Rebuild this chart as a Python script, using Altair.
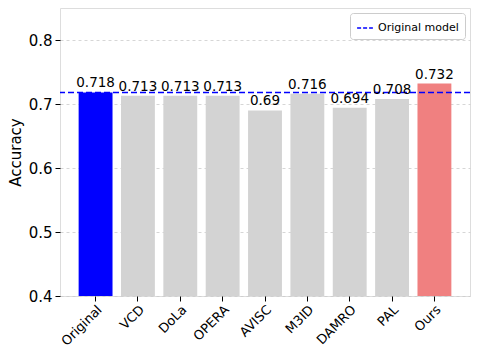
import altair as alt
import pandas as pd

methods = ["Original", "VCD", "DoLa", "OPERA", "AVISC", "M3ID", "DAMRO", "PAL", "Ours"]
accuracy = [0.718, 0.713, 0.713, 0.713, 0.69, 0.716, 0.694, 0.708, 0.732]
labels = ["0.718", "0.713", "0.713", "0.713", "0.69", "0.716", "0.694", "0.708", "0.732"]
colors = ["#0000ff", "#d3d3d3", "#d3d3d3", "#d3d3d3", "#d3d3d3", "#d3d3d3", "#d3d3d3", "#d3d3d3", "#f08080"]
baseline_value = 0.718
baseline_label = "Original model"

df = pd.DataFrame({"method": methods, "acc": accuracy, "label": labels, "color": colors})
ref = pd.DataFrame({"y": [baseline_value], "name": [baseline_label]})

FONT = "DejaVu Sans"

x = alt.X("method:N", sort=methods, title=None,
          scale=alt.Scale(paddingInner=0.2, paddingOuter=0.44),
          axis=alt.Axis(labelAngle=-45, labelAlign="right", labelBaseline="top",
                        labelFontSize=13, labelFont=FONT, labelColor="black",
                        tickColor="black", tickSize=5, domain=False, grid=False,
                        labelPadding=2))
y = alt.Y("acc:Q", title="Accuracy",
          scale=alt.Scale(domain=[0.4, 0.85], nice=False, zero=False),
          axis=alt.Axis(values=[0.4, 0.5, 0.6, 0.7, 0.8], format=".1f",
                        labelFontSize=15, labelFont=FONT, labelColor="black",
                        titleFontSize=15, titleFont=FONT, titleFontWeight="normal",
                        titleColor="black", tickColor="black", tickSize=5,
                        domain=False, grid=True, gridDash=[3, 3],
                        gridColor="#cccccc", gridWidth=0.8, titlePadding=5,
                        labelPadding=3))

bars = alt.Chart(df).mark_bar(clip=True).encode(
    x=x, y=y, y2=alt.datum(0.4), color=alt.Color("color:N", scale=None)
)

text = alt.Chart(df).mark_text(dy=-9, fontSize=13.5, font=FONT, color="black").encode(
    x=alt.X("method:N", sort=methods), y="acc:Q", text="label:N"
)

rule = alt.Chart(ref).mark_rule(strokeDash=[6, 3], strokeWidth=1.6).encode(
    y="y:Q",
    color=alt.Color("name:N", scale=alt.Scale(range=["#0000ff"]),
                    legend=alt.Legend(title=None, orient="top-right", symbolType="stroke",
                                      symbolDash=[4, 2], symbolStrokeWidth=1.6, symbolSize=250,
                                      labelFontSize=11, labelFont=FONT, labelColor="black",
                                      fillColor="white", strokeColor="#cccccc",
                                      padding=6, cornerRadius=3, offset=5))
)

chart = alt.layer(bars, rule, text).properties(
    width=463, height=341,
    padding={"left": 0, "top": 0, "right": 0, "bottom": 0},
    autosize=alt.AutoSizeParams(type="fit", contains="padding")
).configure_view(stroke="black", strokeWidth=1.2).configure(
    background="white"
)

chart.save("out.html", embed_options={"renderer": "svg", "actions": False})
